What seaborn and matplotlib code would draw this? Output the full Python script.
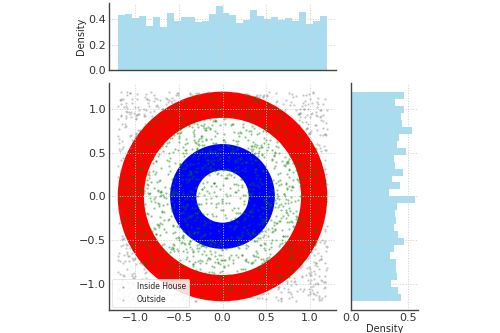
import numpy as np
import pandas as pd
import matplotlib
matplotlib.use("Agg")
import matplotlib.pyplot as plt
from matplotlib.patches import Annulus
import seaborn as sns

# ---- data ----
ring_outer = [1.2, 0.6]          # red ring, blue ring outer radii
ring_inner = [0.9, 0.3]          # inner radii
ring_colors = ["red", "blue"]
house_radius = 1.2
n_points = 2000

# marginal x-histogram densities (left -> right, 30 bins over [-1.2, 1.2])
x_density = [0.434, 0.442, 0.413, 0.429, 0.350, 0.421, 0.337, 0.453, 0.389, 0.416,
             0.416, 0.380, 0.389, 0.442, 0.503, 0.453, 0.437, 0.374, 0.397, 0.476,
             0.424, 0.405, 0.421, 0.397, 0.410, 0.384, 0.458, 0.363, 0.384, 0.429]
# marginal y-histogram densities (top -> bottom, 30 bins over [1.2, -1.2])
y_density_top_down = [0.462, 0.388, 0.468, 0.437, 0.444, 0.535, 0.418, 0.405, 0.485, 0.374,
                      0.388, 0.455, 0.359, 0.429, 0.337, 0.560, 0.400, 0.388, 0.397, 0.374,
                      0.411, 0.462, 0.380, 0.338, 0.393, 0.396, 0.403, 0.352, 0.415, 0.441]
y_density = y_density_top_down[::-1]

# scatter cloud: individual throws are not readable; uniform texture over the square
rng = np.random.default_rng(7)
pts = rng.uniform(-house_radius, house_radius, size=(n_points, 2))
df = pd.DataFrame(pts, columns=["x", "y"])
df["r"] = np.hypot(df.x, df.y)
inside = df[df.r <= house_radius]
outside = df[df.r > house_radius]

nbins = len(x_density)
edges = np.linspace(-house_radius, house_radius, nbins + 1)
centers = (edges[:-1] + edges[1:]) / 2
hx = pd.DataFrame({"c": centers, "d": x_density})
hy = pd.DataFrame({"c": centers, "d": y_density})

# ---- style ----
sns.set_style("whitegrid", {"grid.linestyle": ":", "grid.color": "#cfcfcf",
                            "axes.edgecolor": "#444444"})
plt.rcParams["font.family"] = ["DejaVu Sans"]
plt.rcParams["xtick.labelsize"] = 8
plt.rcParams["ytick.labelsize"] = 8
plt.rcParams["grid.linewidth"] = 0.7

fig = plt.figure(figsize=(5.0, 3.33), dpi=100)
ax = fig.add_axes([0.218, 0.069, 0.454, 0.682])
axx = fig.add_axes([0.218, 0.790, 0.454, 0.201], sharex=ax)
axy = fig.add_axes([0.702, 0.069, 0.134, 0.682], sharey=ax)

for ro, ri, c in zip(ring_outer, ring_inner, ring_colors):
    ax.add_patch(Annulus((0, 0), ro, ro - ri, color=c, zorder=1, lw=0))

sns.scatterplot(data=inside, x="x", y="y", color="green", alpha=0.45, s=2.5,
                linewidth=0, label="Inside House", ax=ax, zorder=2)
sns.scatterplot(data=outside, x="x", y="y", color="gray", alpha=0.45, s=2.5,
                linewidth=0, label="Outside", ax=ax, zorder=2)
ax.set_xlabel("")
ax.set_ylabel("")
leg = ax.legend(loc="lower left", fontsize=5.5, frameon=True, markerscale=1.0,
                handletextpad=0.8, borderpad=0.45, labelspacing=0.4,
                borderaxespad=0.4, handlelength=2.0)
leg.get_frame().set_facecolor("white")
leg.get_frame().set_alpha(0.85)
leg.get_frame().set_edgecolor("#dddddd")
leg.get_frame().set_linewidth(0.6)

sns.histplot(data=hx, x="c", weights="d", bins=nbins,
             binrange=(-house_radius, house_radius), ax=axx, color="skyblue",
             alpha=0.7, linewidth=0, stat="count")
axx.set_ylabel("Density", fontsize=7, labelpad=2)
axx.set_xlabel("")
axx.tick_params(axis="x", labelbottom=False)

sns.histplot(data=hy, y="c", weights="d", bins=nbins,
             binrange=(-house_radius, house_radius), ax=axy, color="skyblue",
             alpha=0.7, linewidth=0, stat="count")
axy.set_xlabel("Density", fontsize=7, labelpad=1)
axy.set_ylabel("")
axy.tick_params(axis="y", labelleft=False)
axy.set_xticks([0.0, 0.5])

ax.set_xlim(-1.3, 1.3)
ax.set_ylim(-1.3, 1.3)

for a in (ax, axx, axy):
    sns.despine(ax=a)
    a.set_axisbelow("line")
    a.tick_params(direction="in", length=3, color="#444444", labelcolor="#333333", pad=2)
    for s in ("left", "bottom"):
        a.spines[s].set_linewidth(1.0)
        a.spines[s].set_zorder(5)

fig.savefig("out.png", dpi=100)
